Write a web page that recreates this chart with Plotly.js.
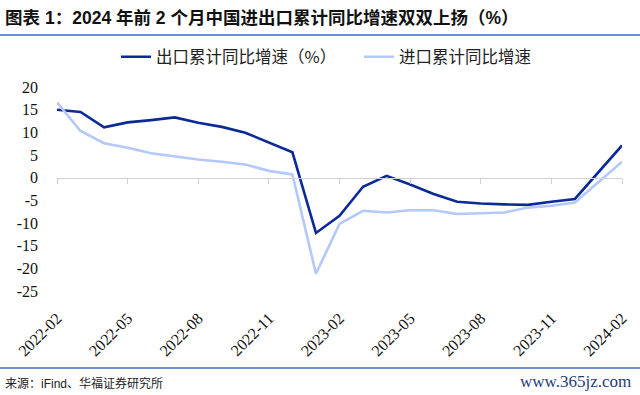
<!DOCTYPE html>
<html><head><meta charset="utf-8">
<script src="https://cdn.plot.ly/plotly-3.0.1.min.js"></script>
<style>html,body{margin:0;padding:0;background:#fff}#chart{width:640px;height:395px}</style>
</head><body><div id="chart"></div>
<script>
const categories = ['2022-02','2022-03','2022-04','2022-05','2022-06','2022-07','2022-08','2022-09','2022-10','2022-11','2022-12',
  '2023-01','2023-02','2023-03','2023-04','2023-05','2023-06','2023-07','2023-08','2023-09','2023-10','2023-11','2023-12',
  '2024-01','2024-02'];
const exportGrowth = [15.0,14.5,11.1,12.2,12.7,13.3,12.1,11.2,9.9,7.7,5.6,-12.2,-8.4,-2.0,0.4,-1.5,-3.6,-5.3,-5.7,-5.9,-6.0,-5.3,-4.7,null,7.1];
const importGrowth = [16.6,10.3,7.6,6.6,5.4,4.7,4.0,3.5,2.9,1.5,0.7,-21.2,-10.2,-7.3,-7.7,-7.2,-7.2,-8.0,-7.8,-7.7,-6.6,-6.2,-5.5,null,3.5];
const seriesNames = ['出口累计同比增速（%）','进口累计同比增速'];
const tickLabels = categories.filter((c,i)=>i%3===0);
const yTicks = [20,15,10,5,0,-5,-10,-15,-20,-25];
const titleText = '图表 1：2024 年前 2 个月中国进出口累计同比增速双双上扬（%）';
const sourceText = '来源：iFind、华福证券研究所';
const watermarkText = 'www.365jz.com';

const W=640,H=395,M={l:57,r:18,t:87,b:104};
const pw=W-M.l-M.r, ph=H-M.t-M.b;
const px=x=>(x-M.l)/pw, py=y=>(H-M.b-y)/ph;
const yRange=[-25,20];
const zeroPos=(0-yRange[0])/(yRange[1]-yRange[0]);

const cjk='Liberation Sans, Noto Sans CJK SC, sans-serif';
const serif='Liberation Serif, Times New Roman, serif';

const data=[
 {x:categories,y:exportGrowth,name:seriesNames[0],type:'scatter',mode:'lines',connectgaps:true,
  line:{color:'#0b2a98',width:2.6},hoverinfo:'skip'},
 {x:categories,y:importGrowth,name:seriesNames[1],type:'scatter',mode:'lines',connectgaps:true,
  line:{color:'#b3c8fb',width:2.6},hoverinfo:'skip'},
 {x:categories,y:categories.map(()=>null),xaxis:'x2',yaxis:'y',showlegend:false,hoverinfo:'skip',mode:'lines'}
];
const layout={
 width:W,height:H,margin:M,paper_bgcolor:'#fff',plot_bgcolor:'#fff',
 title:{text:'<b>'+titleText+'</b>',font:{family:cjk,size:17.5,color:'#111'},xref:'container',x:0.008,xanchor:'left',yref:'container',y:1-18/H,yanchor:'middle'},
 showlegend:true,
 legend:{orientation:'h',xref:'paper',yref:'paper',x:px(116),xanchor:'left',y:py(57),yanchor:'middle',
   font:{family:'Noto Sans CJK SC, sans-serif',size:16.5,color:'#222'},entrywidth:198,entrywidthmode:'pixels',itemwidth:30,bgcolor:'rgba(0,0,0,0)'},
 xaxis:{type:'category',categoryarray:categories,range:[0,categories.length-1],showline:false,ticks:'',showgrid:false,zeroline:false,
   tickvals:tickLabels,ticktext:tickLabels,tickangle:-45,ticklabelstandoff:14,tickfont:{family:serif,size:16,color:'#111'}},
 xaxis2:{type:'category',overlaying:'x',matches:'x',anchor:'free',position:zeroPos,showline:true,linecolor:'#d0d0d0',linewidth:1.5,
   ticks:'outside',ticklen:5,tickwidth:1,tickcolor:'#d0d0d0',tickvals:tickLabels,showticklabels:false,showgrid:false,zeroline:false},
 yaxis:{range:yRange,tickvals:yTicks,ticktext:yTicks.map(String),showgrid:false,zeroline:false,showline:false,ticks:'',
   tickfont:{family:serif,size:16,color:'#111'},ticklabelstandoff:18},
 shapes:[
  {type:'line',xref:'paper',yref:'paper',x0:px(0),x1:px(W),y0:py(35),y1:py(35),line:{color:'#3e6cc0',width:1.5}},
  {type:'line',xref:'paper',yref:'paper',x0:px(0),x1:px(W),y0:py(368),y1:py(368),line:{color:'#3e6cc0',width:1.5}}
 ],
 annotations:[
  {text:sourceText,xref:'paper',yref:'paper',x:px(3),y:py(383),xanchor:'left',yanchor:'middle',showarrow:false,
   font:{family:cjk,size:12,color:'#222'}},
  {text:watermarkText,xref:'paper',yref:'paper',x:px(633),y:py(381),xanchor:'right',yanchor:'middle',showarrow:false,
   font:{family:serif,size:17,color:'#1f3c78'}}
 ]
};
Plotly.newPlot('chart',data,layout,{staticPlot:true,displayModeBar:false});
</script></body></html>
